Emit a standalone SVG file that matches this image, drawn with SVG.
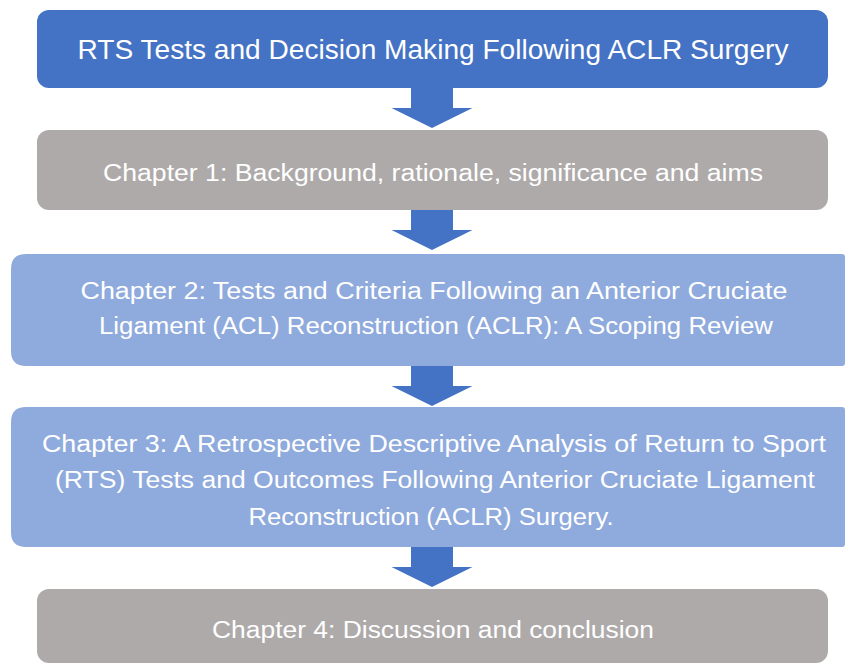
<svg xmlns="http://www.w3.org/2000/svg" width="846" height="663" viewBox="0 0 846 663">
  <defs>
    <style>
      .box-dark { fill: #4472C4; }
      .box-grey { fill: #AEAAAA; }
      .box-light { fill: #8FAADC; }
      .arrow { fill: #4472C4; }
      .label { font-family: "Liberation Sans", Arial, sans-serif; fill: #FFFFFF; text-anchor: middle; }
      .title { font-size: 27.5px; }
      .chapter { font-size: 23.5px; }
    </style>
    <!-- down arrow shape: stem 42 wide, head 81 wide, 40 tall -->
    <path id="down-arrow" d="M-21,0 H21 V20 H40.5 L0,40 L-40.5,20 H-21 Z"/>
  </defs>

  <rect width="846" height="663" fill="#FFFFFF"/>

  <g id="connectors">
    <use href="#down-arrow" class="arrow" x="432" y="88"/>
    <use href="#down-arrow" class="arrow" x="432" y="210"/>
    <use href="#down-arrow" class="arrow" x="432" y="366"/>
    <use href="#down-arrow" class="arrow" x="432" y="547"/>
  </g>

  <g id="title-node">
    <rect class="box-dark" x="37" y="10" width="791" height="78" rx="12"/>
    <text class="label title" x="433" y="59" textLength="711" lengthAdjust="spacingAndGlyphs">RTS Tests and Decision Making Following ACLR Surgery</text>
  </g>

  <g id="chapter-1">
    <rect class="box-grey" x="37" y="130" width="791" height="80" rx="12"/>
    <text class="label chapter" x="433" y="180.5" textLength="660" lengthAdjust="spacingAndGlyphs">Chapter 1: Background, rationale, significance and aims</text>
  </g>

  <g id="chapter-2">
    <!-- wide box: round left corners, near-square right edge at the page border -->
    <path class="box-light" d="M26,254 H842 Q845,254 845,257 V363 Q845,366 842,366 H26 Q11,366 11,351 V269 Q11,254 26,254 Z"/>
    <text class="label chapter" x="434" y="298.5" textLength="707" lengthAdjust="spacingAndGlyphs">Chapter 2: Tests and Criteria Following an Anterior Cruciate</text>
    <text class="label chapter" x="436" y="333.5" textLength="674" lengthAdjust="spacingAndGlyphs">Ligament (ACL) Reconstruction (ACLR): A Scoping Review</text>
  </g>

  <g id="chapter-3">
    <path class="box-light" d="M26,407 H842 Q845,407 845,410 V544 Q845,547 842,547 H26 Q11,547 11,532 V422 Q11,407 26,407 Z"/>
    <text class="label chapter" x="434" y="451.5" textLength="784" lengthAdjust="spacingAndGlyphs">Chapter 3: A Retrospective Descriptive Analysis of Return to Sport</text>
    <text class="label chapter" x="435" y="487.5" textLength="760" lengthAdjust="spacingAndGlyphs">(RTS) Tests and Outcomes Following Anterior Cruciate Ligament</text>
    <text class="label chapter" x="431" y="524.5" textLength="365" lengthAdjust="spacingAndGlyphs">Reconstruction (ACLR) Surgery.</text>
  </g>

  <g id="chapter-4">
    <rect class="box-grey" x="37" y="589" width="791" height="74" rx="12"/>
    <text class="label chapter" x="433" y="637.5" textLength="442" lengthAdjust="spacingAndGlyphs">Chapter 4: Discussion and conclusion</text>
  </g>
</svg>
